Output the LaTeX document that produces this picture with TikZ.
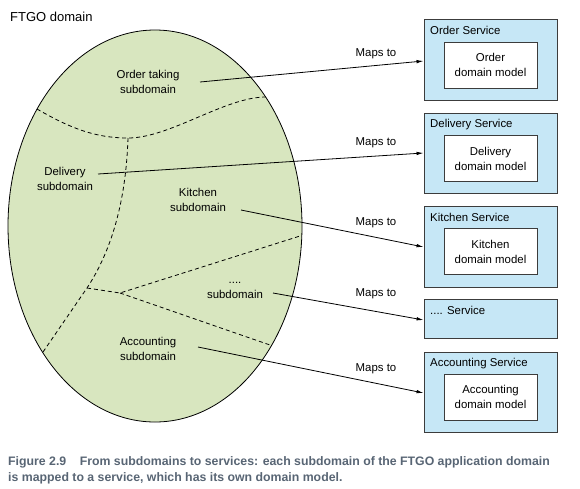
\documentclass[tikz,border=0pt]{standalone}
\usepackage{fontspec}
\setmainfont{Liberation Sans}
\usetikzlibrary{arrows.meta,calc}
\definecolor{domfill}{RGB}{216,230,191}
\definecolor{svcfill}{RGB}{198,231,246}
\definecolor{capcol}{RGB}{88,101,116}
\definecolor{boxline}{RGB}{60,60,60}
\begin{document}
\begin{tikzpicture}[x=1pt,y=-1pt,
  txt/.style={font=\fontsize{11.4}{15}\selectfont, align=center, inner sep=0pt},
  svcbox/.style={draw=boxline, line width=0.9pt, fill=svcfill, minimum width=133pt, inner sep=0pt},
  modelbox/.style={draw=boxline, line width=0.9pt, fill=white, minimum width=93pt, minimum height=46pt, inner sep=0pt, font=\fontsize{11.4}{15}\selectfont, align=center},
  svctitle/.style={font=\fontsize{11.4}{15}\selectfont, inner sep=0pt, anchor=base west},
  border/.style={dash pattern=on 4pt off 3pt, line width=0.8pt},
  mapsto/.style={-{Latex[length=7pt,width=3.5pt]}, line width=0.8pt},
  captxt/.style={font=\fontsize{12.3}{14}\selectfont\bfseries, text=capcol, inner sep=0pt, anchor=base west}
]
\useasboundingbox (0,0) rectangle (580,488);

% domain ellipse
\node[svctitle, font=\fontsize{13}{15}\selectfont] (title) at (10,21.5) {FTGO domain};
\draw[fill=domfill, line width=0.8pt] (155,226) ellipse [x radius=147, y radius=196];

% subdomain borders
\coordinate (j1) at (128,138);
\coordinate (j2) at (87,288);
\coordinate (j3) at (120,293);
\draw[border] (37,109) .. controls (70,128) and (95,138) .. (j1) .. controls (170,138) and (225,97) .. (266,97);
\draw[border] (j1) .. controls (126,200) and (112,250) .. (j2) -- (43,352);
\draw[border] (j2) -- (j3) -- (300,236);
\draw[border] (j3) -- (270,345);

% subdomain labels
\node[txt] (ot) at (148,81.5) {Order taking\\subdomain};
\node[txt] (dl) at (65,178.5) {Delivery\\subdomain};
\node[txt] (kt) at (198,199.5) {Kitchen\\subdomain};
\node[txt] (dd) at (235,290) {....\\subdomain};
\node[txt] (ac) at (148,349) {Accounting\\subdomain};

% services
\node[svcbox, minimum height=81pt] (osvc) at (490.5,59.5) {};
\node[svctitle] (ost) at (430,34) {Order Service};
\node[modelbox] (om) at (490.5,65) {Order\\domain model};

\node[svcbox, minimum height=80pt] (dsvc) at (490.5,153) {};
\node[svctitle] (dst) at (430,127) {Delivery Service};
\node[modelbox] (dm) at (490.5,158.5) {Delivery\\domain model};

\node[svcbox, minimum height=81pt] (ksvc) at (490.5,246.5) {};
\node[svctitle] (kst) at (430,221) {Kitchen Service};
\node[modelbox] (km) at (490.5,251.5) {Kitchen\\domain model};

\node[svcbox, minimum height=39pt] (xsvc) at (490.5,318.5) {};
\node[svctitle] (xst) at (430,314) {.... Service};

\node[svcbox, minimum height=80pt] (asvc) at (490.5,392) {};
\node[svctitle] (ast) at (430,366) {Accounting Service};
\node[modelbox] (am) at (490.5,397) {Accounting\\domain model};

% connectors
\coordinate (os) at (200,82);
\coordinate (ds) at (98,174);
\coordinate (ks) at (241,210);
\coordinate (xs) at (273,293);
\coordinate (as) at (198,347);
\draw[mapsto] (os) -- ($(osvc.west)+(0,1.5)$);
\draw[mapsto] (ds) -- (dsvc.west);
\draw[mapsto] (ks) -- ($(ksvc.west)+(0,0.5)$);
\draw[mapsto] (xs) -- ($(xsvc.west)+(0,1.5)$);
\draw[mapsto] (as) -- ($(asvc.west)+(0,1)$);

\node[txt] (m1) at (376,54) {Maps to};
\node[txt] (m2) at (376,143) {Maps to};
\node[txt] (m3) at (376,223) {Maps to};
\node[txt] (m4) at (376,294) {Maps to};
\node[txt] (m5) at (376,369) {Maps to};

% caption
\node[captxt] (cap1) at (8,465.5) {Figure 2.9\hspace{1.1em}From subdomains to services: each subdomain of the FTGO application domain};
\node[captxt] (cap2) at (8,481) {is mapped to a service, which has its own domain model.};
\end{tikzpicture}
\end{document}
